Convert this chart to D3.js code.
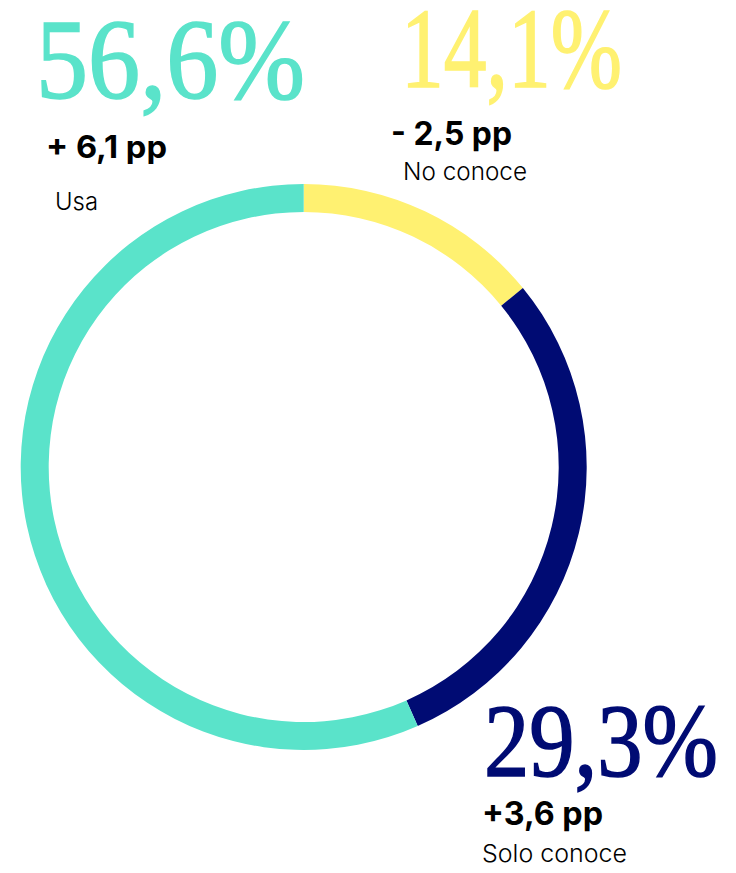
<!DOCTYPE html>
<html lang="es">
<head>
<meta charset="utf-8">
<script src="https://cdn.jsdelivr.net/npm/d3@7"></script>
<style>
  html, body { margin: 0; padding: 0; background: #ffffff; }
  svg { display: block; }
</style>
</head>
<body>
<svg id="chart" width="736" height="873"></svg>
<script>
// Share of respondents by awareness / usage, clockwise from 12 o'clock
const categories = ["No conoce", "Solo conoce", "Usa"];
const shares = [14.1, 29.3, 56.6];
const deltaLabels = ["- 2,5 pp", "+3,6 pp", "+ 6,1 pp"];
const colors = ["#fff171", "#000b73", "#5ae3ca"];

const width = 736, height = 873;
const cx = 303.7, cy = 467;
const outerR = 283, innerR = 255;

const svg = d3.select("#chart");

const es = d3.formatLocale({ decimal: ",", thousands: ".", grouping: [3], currency: ["", "€"] });
const pct = v => es.format(".1f")(v) + "%";

const color = d3.scaleOrdinal().domain(categories).range(colors);

const data = categories.map((c, i) => ({ name: c, value: shares[i], delta: deltaLabels[i] }));

const pie = d3.pie().sort(null).value(d => d.value).startAngle(0).endAngle(2 * Math.PI);
const arc = d3.arc().innerRadius(innerR).outerRadius(outerR);

svg.append("g")
  .attr("transform", `translate(${cx},${cy})`)
  .selectAll("path")
  .data(pie(data))
  .join("path")
  .attr("d", arc)
  .attr("fill", d => color(d.data.name));

// Label block placement per category; big figures are fitted to a target width
const layout = {
  "Usa":         { x: 36,  big: 98,  bigSize: 114, bigW: 269, dx: 46,  dy: 158, dSize: 31, dW: 121, lx: 55,  ly: 210, lW: 43 },
  "No conoce":   { x: 401, big: 87,  bigSize: 114, bigW: 221, dx: 391, dy: 145, dSize: 32, dW: 121, lx: 403, ly: 180, lW: 124 },
  "Solo conoce": { x: 484, big: 776, bigSize: 104, bigW: 234, dx: 482, dy: 825, dSize: 32, dW: 121, lx: 482, ly: 862, lW: 145 }
};

const labels = svg.append("g")
  .selectAll("g")
  .data(data)
  .join("g");

labels.append("text")
  .style("font-family", "'Liberation Serif', 'DejaVu Serif', serif")
  .style("font-size", d => layout[d.name].bigSize + "px")
  .attr("fill", d => color(d.name))
  .attr("stroke", d => color(d.name))
  .attr("stroke-width", 1.6)
  .text(d => pct(d.value))
  .attr("transform", function(d) {
    const L = layout[d.name];
    const w = this.getComputedTextLength();
    return `translate(${L.x},${L.big}) scale(${L.bigW / w},1)`;
  });

labels.append("text")
  .attr("x", d => layout[d.name].dx)
  .attr("y", d => layout[d.name].dy)
  .attr("textLength", d => layout[d.name].dW)
  .attr("lengthAdjust", "spacingAndGlyphs")
  .style("font-family", "Inter, 'Liberation Sans', sans-serif")
  .style("font-weight", 700)
  .style("font-size", d => layout[d.name].dSize + "px")
  .attr("fill", "#000000")
  .text(d => d.delta);

labels.append("text")
  .attr("x", d => layout[d.name].lx)
  .attr("y", d => layout[d.name].ly)
  .attr("textLength", d => layout[d.name].lW)
  .attr("lengthAdjust", "spacingAndGlyphs")
  .style("font-family", "Inter, 'Liberation Sans', sans-serif")
  .style("font-weight", 300)
  .style("font-size", "24px")
  .attr("fill", "#000000")
  .text(d => d.name);
</script>
</body>
</html>
